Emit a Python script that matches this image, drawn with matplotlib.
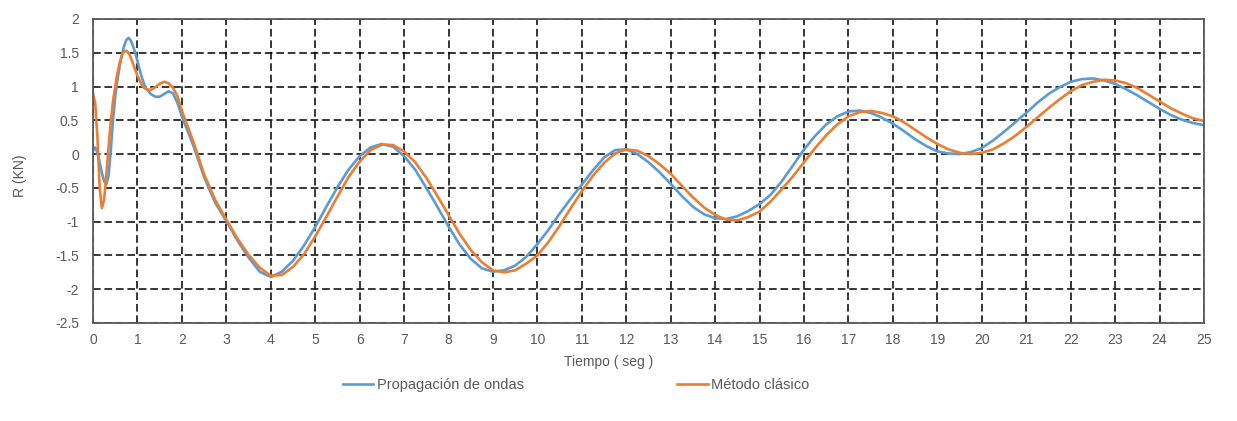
import matplotlib
matplotlib.use('Agg')
import matplotlib.pyplot as plt
from matplotlib.lines import Line2D

plt.rcParams['font.family'] = ['Liberation Sans', 'DejaVu Sans']
plt.rcParams['axes.unicode_minus'] = False

# tiempo (seg) - tramo inicial fino, luego cada 0.25 s
t_ini = [0.0, 0.05, 0.1, 0.15, 0.2, 0.25, 0.3, 0.35, 0.4, 0.45, 0.5, 0.55, 0.6, 0.65, 0.7,
         0.75, 0.8, 0.85, 0.9, 0.95, 1.0, 1.05, 1.1, 1.15, 1.2, 1.3, 1.4, 1.5, 1.6, 1.7, 1.8, 1.9]
t_resto = [2.0, 2.25, 2.5, 2.75, 3.0, 3.25, 3.5, 3.75, 4.0, 4.25, 4.5, 4.75, 5.0, 5.25, 5.5, 5.75,
           6.0, 6.25, 6.5, 6.75, 7.0, 7.25, 7.5, 7.75, 8.0, 8.25, 8.5, 8.75, 9.0, 9.25, 9.5, 9.75,
           10.0, 10.25, 10.5, 10.75, 11.0, 11.25, 11.5, 11.75, 12.0, 12.25, 12.5, 12.75, 13.0, 13.25,
           13.5, 13.75, 14.0, 14.25, 14.5, 14.75, 15.0, 15.25, 15.5, 15.75, 16.0, 16.25, 16.5, 16.75,
           17.0, 17.25, 17.5, 17.75, 18.0, 18.25, 18.5, 18.75, 19.0, 19.25, 19.5, 19.75, 20.0, 20.25,
           20.5, 20.75, 21.0, 21.25, 21.5, 21.75, 22.0, 22.25, 22.5, 22.75, 23.0, 23.25, 23.5, 23.75,
           24.0, 24.25, 24.5, 24.75, 25.0]
tiempo = t_ini + t_resto

# Propagación de ondas
r_ondas = [0.05, 0.10, 0.02, -0.12, -0.28, -0.40, -0.45, -0.32, 0.05, 0.50, 0.85, 1.10, 1.30, 1.47, 1.60,
           1.69, 1.72, 1.68, 1.60, 1.50, 1.38, 1.25, 1.13, 1.04, 0.97, 0.89, 0.85, 0.85, 0.89, 0.93, 0.90, 0.76,
           0.56, 0.14, -0.34, -0.72, -0.99, -1.28, -1.53, -1.74, -1.82, -1.74, -1.58, -1.35, -1.08, -0.78, -0.49, -0.23,
           -0.03, 0.10, 0.15, 0.11, -0.03, -0.23, -0.50, -0.78, -1.07, -1.34, -1.55, -1.69, -1.74, -1.72, -1.65, -1.52,
           -1.33, -1.12, -0.88, -0.66, -0.45, -0.24, -0.05, 0.06, 0.07, 0.00, -0.12, -0.27, -0.44, -0.62,
           -0.78, -0.89, -0.95, -0.96, -0.92, -0.84, -0.74, -0.60, -0.40, -0.17, 0.07, 0.27, 0.44, 0.56,
           0.63, 0.645, 0.61, 0.54, 0.45, 0.34, 0.22, 0.12, 0.04, 0.01, 0.00, 0.03, 0.09, 0.20,
           0.33, 0.47, 0.61, 0.76, 0.89, 0.99, 1.07, 1.11, 1.12, 1.09, 1.04, 0.96, 0.87, 0.77,
           0.67, 0.58, 0.51, 0.46, 0.43]

# Método clásico
r_clasico = [0.90, 0.75, 0.25, -0.50, -0.80, -0.68, -0.30, 0.10, 0.48, 0.78, 1.00, 1.20, 1.35, 1.46, 1.52,
             1.53, 1.50, 1.43, 1.34, 1.25, 1.16, 1.09, 1.02, 0.98, 0.96, 0.95, 0.99, 1.04, 1.07, 1.05, 0.98, 0.86,
             0.64, 0.20, -0.30, -0.68, -0.97, -1.25, -1.49, -1.68, -1.80, -1.79, -1.67, -1.48, -1.22, -0.93, -0.63, -0.34,
             -0.11, 0.06, 0.14, 0.135, 0.04, -0.12, -0.35, -0.62, -0.90, -1.18, -1.42, -1.60, -1.72, -1.75, -1.72, -1.62,
             -1.50, -1.30, -1.06, -0.80, -0.55, -0.32, -0.13, 0.01, 0.07, 0.05, -0.03, -0.15, -0.29, -0.47,
             -0.64, -0.79, -0.90, -0.97, -0.98, -0.93, -0.85, -0.70, -0.52, -0.33, -0.12, 0.09, 0.28, 0.44,
             0.56, 0.62, 0.64, 0.61, 0.56, 0.47, 0.36, 0.25, 0.15, 0.07, 0.02, 0.00, 0.02, 0.07,
             0.16, 0.27, 0.40, 0.54, 0.68, 0.81, 0.93, 1.02, 1.07, 1.10, 1.09, 1.05, 0.98, 0.88,
             0.78, 0.68, 0.60, 0.53, 0.49]

x_ticks = list(range(0, 26))
y_ticks = [-2.5, -2, -1.5, -1, -0.5, 0, 0.5, 1, 1.5, 2]
y_labels = ['-2.5', '-2', '-1.5', '-1', '-0.5', '0', '0.5', '1', '1.5', '2']

c_ondas = '#5B9BD5'
c_clasico = '#ED7D31'
gris = '#595959'

fig = plt.figure(figsize=(12.37, 4.21), dpi=100)
ax = fig.add_axes([93 / 1237, 1 - 323 / 421, (1204 - 93) / 1237, (323 - 19) / 421])

ax.plot(tiempo, r_ondas, color=c_ondas, lw=1.9, solid_joinstyle='round')
ax.plot(tiempo, r_clasico, color=c_clasico, lw=1.9, solid_joinstyle='round')

ax.set_xlim(0, 25)
ax.set_ylim(-2.5, 2)
ax.set_xticks(x_ticks)
ax.set_yticks(y_ticks)
ax.set_yticklabels(y_labels)
ax.tick_params(length=0, labelsize=10, labelcolor=gris)
ax.tick_params(axis='y', pad=10)
ax.tick_params(axis='x', pad=7)
ax.grid(True, color='black', linestyle=(0, (5, 2.5)), linewidth=1.1)
ax.set_axisbelow(True)
for s in ax.spines.values():
    s.set_color(gris)
    s.set_linewidth(1.3)

fig.text(609 / 1237, 1 - 362 / 421, 'Tiempo ( seg )', ha='center', va='center', fontsize=10, color=gris)
fig.text(20 / 1237, 1 - 176 / 421, 'R (KN)', ha='center', va='center', rotation=90, fontsize=10, color=gris)

handles = [Line2D([], [], color=c_ondas, lw=1.9), Line2D([], [], color=c_clasico, lw=1.9)]
fig.legend(handles, ['Propagación de ondas', 'Método clásico'], loc='center',
           bbox_to_anchor=(576 / 1237, 1 - 385 / 421), ncol=2, frameon=False, fontsize=10.5,
           handlelength=2.1, handletextpad=0.25, columnspacing=10.5, labelcolor=gris)

fig.savefig('out.png', dpi=100)
